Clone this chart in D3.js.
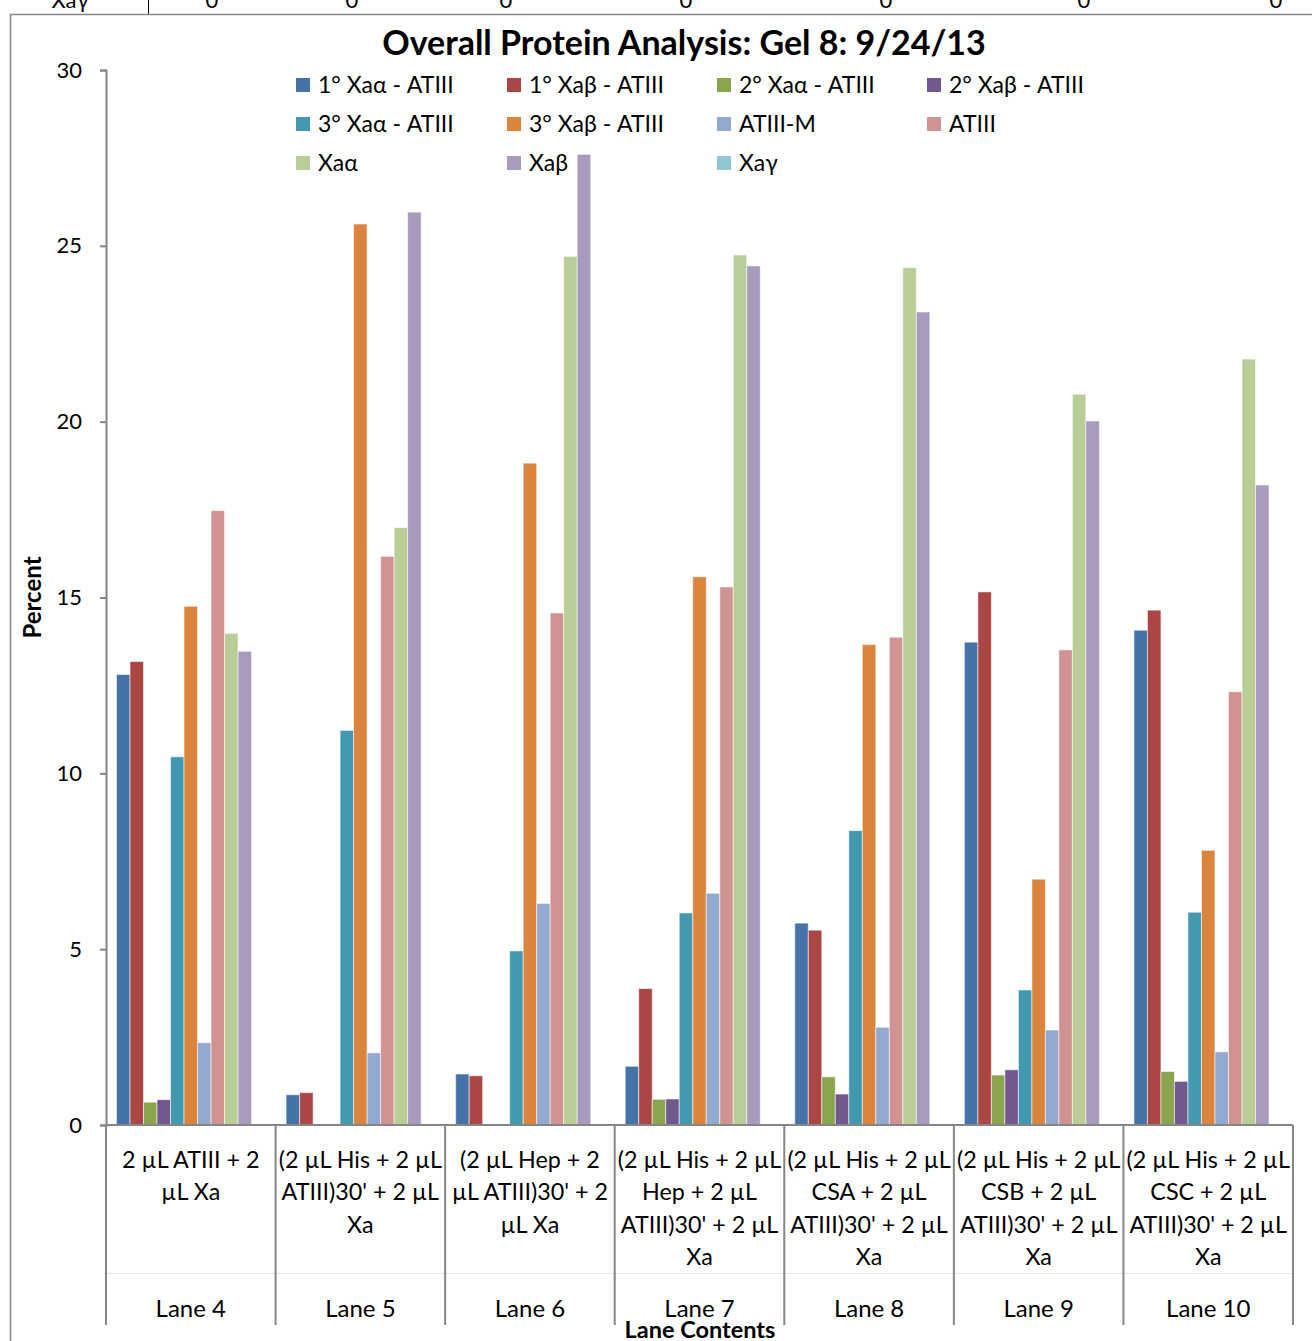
<!DOCTYPE html>
<html>
<head>
<meta charset="utf-8">
<script src="https://cdn.jsdelivr.net/npm/d3@7/dist/d3.min.js"></script>
<style>
  html, body { margin: 0; padding: 0; background: #fff; }
  svg { display: block; font-family: Lato, "Open Sans", sans-serif; }
</style>
</head>
<body>
<svg id="chart" width="1312" height="1341"></svg>
<script>
// Lanes (categories) and the wrapped lane-content captions
const lanes = ["Lane 4", "Lane 5", "Lane 6", "Lane 7", "Lane 8", "Lane 9", "Lane 10"];
const laneContents = [
  ["2 µL ATIII + 2", "µL Xa"],
  ["(2 µL His + 2 µL", "ATIII)30' + 2 µL", "Xa"],
  ["(2 µL Hep + 2", "µL ATIII)30' + 2", "µL Xa"],
  ["(2 µL His + 2 µL", "Hep + 2 µL", "ATIII)30' + 2 µL", "Xa"],
  ["(2 µL His + 2 µL", "CSA + 2 µL", "ATIII)30' + 2 µL", "Xa"],
  ["(2 µL His + 2 µL", "CSB + 2 µL", "ATIII)30' + 2 µL", "Xa"],
  ["(2 µL His + 2 µL", "CSC + 2 µL", "ATIII)30' + 2 µL", "Xa"]
];

// Series names and colours
const seriesNames = ["1° Xaα - ATIII", "1° Xaβ - ATIII", "2° Xaα - ATIII", "2° Xaβ - ATIII",
  "3° Xaα - ATIII", "3° Xaβ - ATIII", "ATIII-M", "ATIII", "Xaα", "Xaβ", "Xaγ"];
const seriesColors = ["#4572A7", "#AA4643", "#89A54E", "#71588F", "#4198AF", "#DB843D",
  "#93A9CF", "#D19392", "#B9CD96", "#A99BBD", "#92C5D6"];

// Percent values per series, one entry per lane (Lane 4 .. Lane 10)
const primaryXaAlpha   = [12.81, 0.86, 1.45, 1.67, 5.74, 13.73, 14.07];
const primaryXaBeta    = [13.18, 0.92, 1.40, 3.88, 5.54, 15.16, 14.64];
const secondaryXaAlpha = [0.65, 0, 0, 0.73, 1.37, 1.42, 1.52];
const secondaryXaBeta  = [0.72, 0, 0, 0.74, 0.88, 1.57, 1.24];
const tertiaryXaAlpha  = [10.47, 11.22, 4.95, 6.03, 8.37, 3.84, 6.05];
const tertiaryXaBeta   = [14.75, 25.62, 18.82, 15.59, 13.66, 6.99, 7.81];
const atiiiM           = [2.34, 2.05, 6.30, 6.59, 2.78, 2.70, 2.08];
const atiii            = [17.47, 16.17, 14.56, 15.30, 13.87, 13.51, 12.32];
const xaAlpha          = [13.98, 16.99, 24.70, 24.74, 24.38, 20.78, 21.78];
const xaBeta           = [13.47, 25.96, 27.60, 24.43, 23.12, 20.02, 18.20];
const xaGamma          = [0, 0, 0, 0, 0, 0, 0];

const seriesValues = [primaryXaAlpha, primaryXaBeta, secondaryXaAlpha, secondaryXaBeta,
  tertiaryXaAlpha, tertiaryXaBeta, atiiiM, atiii, xaAlpha, xaBeta, xaGamma];

// Y-axis ticks
const yTicks = [0, 5, 10, 15, 20, 25, 30];

const svg = d3.select("#chart");
const axisColor = "#868686";

// Spreadsheet row visible above the chart object
const sheetRow = svg.append("g");
sheetRow.append("text").attr("x", 70).attr("y", 8).attr("text-anchor", "middle")
  .attr("font-size", 22).attr("fill", "#000").text("Xaγ");
sheetRow.append("line").attr("x1", 148.5).attr("x2", 148.5).attr("y1", 0).attr("y2", 14)
  .attr("stroke", "#000").attr("stroke-width", 1);
const zeroX = [212, 352, 506, 686, 886, 1084, 1276];
sheetRow.selectAll("text.z").data(xaGamma).join("text").attr("class", "z")
  .attr("x", (d, i) => zeroX[i]).attr("y", 8).attr("text-anchor", "middle")
  .attr("font-size", 22).attr("fill", "#000").text(d => d);

// Chart object frame
svg.append("rect").attr("x", 10.5).attr("y", 14.5).attr("width", 1320).attr("height", 1340)
  .attr("fill", "#fff").attr("stroke", axisColor).attr("stroke-width", 1.5);

const plot = { left: 106, right: 1293, top: 70, bottom: 1125 };

const y = d3.scaleLinear().domain([0, 30]).range([plot.bottom, plot.top]);
const x0 = d3.scaleBand().domain(lanes).range([plot.left, plot.right]);
const gap = x0.bandwidth() * 0.124;
const x1 = d3.scaleBand().domain(seriesNames).range([gap / 2, x0.bandwidth() - gap / 2]);

// Title
svg.append("text").attr("x", 684).attr("y", 55).attr("text-anchor", "middle")
  .attr("font-size", 34).attr("font-weight", "bold").attr("fill", "#000")
  .text("Overall Protein Analysis: Gel 8: 9/24/13");

// Bars
const groups = svg.append("g").selectAll("g").data(lanes).join("g")
  .attr("transform", d => `translate(${x0(d)},0)`);
groups.selectAll("rect")
  .data((lane, li) => seriesNames.map((s, si) => ({ s, si, v: seriesValues[si][li] })))
  .join("rect")
  .attr("x", d => x1(d.s))
  .attr("width", x1.bandwidth())
  .attr("y", d => y(d.v))
  .attr("height", d => y(0) - y(d.v))
  .attr("fill", d => seriesColors[d.si])
  .attr("stroke", d => d.v > 0 ? "rgba(255,255,255,0.55)" : "none")
  .attr("stroke-width", 1);

// Y axis
const yAxis = d3.axisLeft(y).tickValues(yTicks).tickSize(6).tickPadding(18);
const gy = svg.append("g").attr("transform", `translate(${plot.left},0)`).call(yAxis);
gy.select(".domain").attr("stroke", axisColor).attr("stroke-width", 2);
gy.selectAll(".tick line").attr("stroke", axisColor).attr("stroke-width", 2);
gy.selectAll(".tick text").attr("font-size", 22).attr("font-family", "Lato, sans-serif").attr("fill", "#000");

svg.append("text").attr("transform", `translate(41,${(plot.top + plot.bottom) / 2}) rotate(-90)`)
  .attr("text-anchor", "middle").attr("font-size", 24).attr("font-weight", "bold")
  .attr("fill", "#000").text("Percent");

// X axis with multi-level category labels
const xAxisG = svg.append("g");
xAxisG.append("line").attr("x1", plot.left).attr("x2", plot.right)
  .attr("y1", plot.bottom).attr("y2", plot.bottom)
  .attr("stroke", axisColor).attr("stroke-width", 2);
// light separator between the two label levels
xAxisG.append("line").attr("x1", plot.left).attr("x2", plot.right)
  .attr("y1", 1273.5).attr("y2", 1273.5).attr("stroke", "#e6e6e6").attr("stroke-width", 1);
const boundaries = lanes.map(l => x0(l)).concat([plot.right]);
xAxisG.selectAll("line.div").data(boundaries).join("line").attr("class", "div")
  .attr("x1", d => d).attr("x2", d => d).attr("y1", plot.bottom).attr("y2", 1325)
  .attr("stroke", axisColor).attr("stroke-width", 2);

const labelG = xAxisG.selectAll("g.lbl").data(lanes).join("g").attr("class", "lbl")
  .attr("transform", d => `translate(${x0(d) + x0.bandwidth() / 2},0)`);
labelG.selectAll("text.content").data((d, i) => laneContents[i]).join("text")
  .attr("class", "content").attr("text-anchor", "middle")
  .attr("y", (d, i) => 1168 + i * 32.3).attr("font-size", 23.3).attr("fill", "#000").text(d => d);
labelG.append("text").attr("text-anchor", "middle").attr("y", 1317)
  .attr("font-size", 24).attr("fill", "#000").text(d => d);

svg.append("text").attr("x", 700).attr("y", 1338).attr("text-anchor", "middle")
  .attr("font-size", 23.5).attr("font-weight", "bold").attr("fill", "#000").text("Lane Contents");

// Legend (4 columns, 3 rows)
const legend = svg.append("g");
const legX = [296, 507, 717, 927];
const legY = [85, 124, 163];
const items = legend.selectAll("g").data(seriesNames).join("g")
  .attr("transform", (d, i) => `translate(${legX[i % 4]},${legY[Math.floor(i / 4)]})`);
items.append("rect").attr("x", 0).attr("y", -7).attr("width", 14).attr("height", 14)
  .attr("fill", (d, i) => seriesColors[i]);
items.append("text").attr("x", 22).attr("y", 8).attr("font-size", 23).attr("fill", "#000").text(d => d);
</script>
</body>
</html>
